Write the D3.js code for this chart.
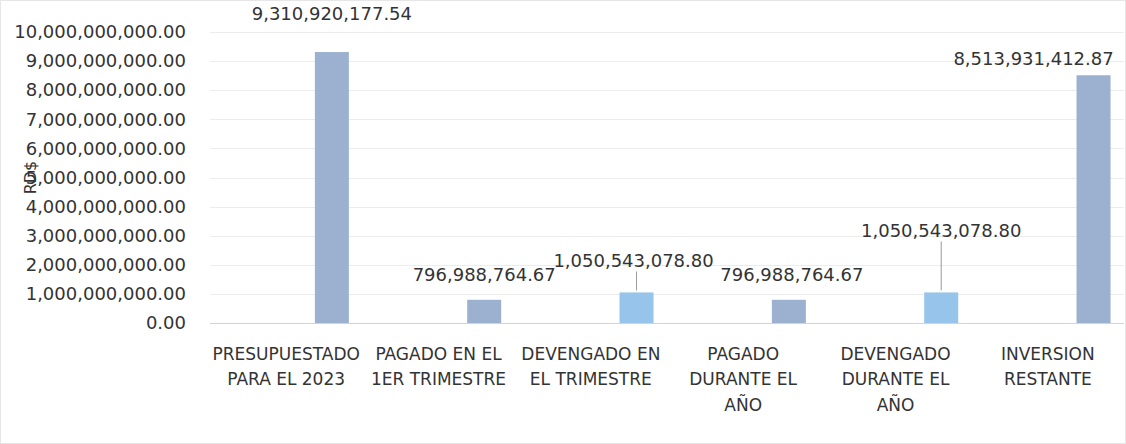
<!DOCTYPE html>
<html>
<head>
<meta charset="utf-8">
<script src="https://cdn.jsdelivr.net/npm/d3@7"></script>
<style>
  body { margin: 0; background: #fff; }
  text { font-family: 'DejaVu Sans', sans-serif; fill: #333; }
</style>
</head>
<body>
<div id="container"></div>
<script>
// DATA
const categories = [
  ['PRESUPUESTADO', 'PARA EL 2023'],
  ['PAGADO EN EL', '1ER TRIMESTRE'],
  ['DEVENGADO EN', 'EL TRIMESTRE'],
  ['PAGADO', 'DURANTE EL', 'AÑO'],
  ['DEVENGADO', 'DURANTE EL', 'AÑO'],
  ['INVERSION', 'RESTANTE']
]
const values = [9310920177.54, 796988764.67, 1050543078.80, 796988764.67, 1050543078.80, 8513931412.87]
const kinds = ['a', 'a', 'b', 'a', 'b', 'a']   // a = pagado/presupuesto, b = devengado
const yTicks = d3.range(0, 10000000001, 1000000000)

// label nudges (px) from default spot above the bar, and whether a leader line is drawn
const labelDx = [0, 0, -3, 3, 0, -60]
const labelDy = [-38, -25, -32, -25, -62, -17]
const leader = [false, false, true, false, true, false]

const w = 1126
const h = 444
const margin = { top: 32, right: 2, bottom: 121, left: 210 }

const color = { a: '#9cb1cf', b: '#97c4ea' }

const svg = d3.select('#container')
  .append('svg')
  .attr('width', w)
  .attr('height', h)

// faint chart border
svg.append('rect')
  .attr('x', 0.5).attr('y', 0.5)
  .attr('width', w - 1).attr('height', h - 1)
  .attr('fill', 'none')
  .attr('stroke', '#e6e6e6')

//SCALES
const x = d3.scaleBand()
  .domain(d3.range(categories.length))
  .range([margin.left, w - margin.right])

const y = d3.scaleLinear()
  .domain([0, 10000000000])
  .range([h - margin.bottom, margin.top])

const fmt = d3.format(',.2f')

//GRIDLINES
svg.append('g')
  .selectAll('line')
  .data(yTicks)
  .join('line')
  .attr('x1', margin.left)
  .attr('x2', w - margin.right)
  .attr('y1', d => Math.round(y(d)) + 0.5)
  .attr('y2', d => Math.round(y(d)) + 0.5)
  .attr('stroke', d => d === 0 ? '#d4d4d4' : '#ececec')

//Y AXIS
const yAxis = svg.append('g')
  .attr('transform', `translate(${margin.left - 24},0)`)
  .call(d3.axisLeft(y).tickValues(yTicks).tickFormat(fmt).tickSize(0).tickPadding(0))
yAxis.select('.domain').remove()
yAxis.selectAll('text')
  .style('font-size', '18px')
  .style('font-family', 'DejaVu Sans, sans-serif')
  .attr('fill', '#333')

svg.append('text')
  .attr('transform', `translate(30,${(y(0) + y(10000000000)) / 2}) rotate(-90)`)
  .attr('text-anchor', 'middle')
  .attr('dy', '0.35em')
  .style('font-size', '16px')
  .text('RD$')

//BARS
const barW = 34
const barX = i => x(i) + x.bandwidth() * 0.8 - barW / 2

svg.append('g')
  .selectAll('rect')
  .data(values)
  .join('rect')
  .attr('x', (d, i) => barX(i))
  .attr('y', d => y(d))
  .attr('width', barW)
  .attr('height', d => y(0) - y(d))
  .attr('fill', (d, i) => color[kinds[i]])

//LEADER LINES
svg.append('g')
  .selectAll('line')
  .data(values.map((v, i) => ({ v, i })).filter(d => leader[d.i]))
  .join('line')
  .attr('x1', d => barX(d.i) + barW / 2)
  .attr('x2', d => barX(d.i) + barW / 2)
  .attr('y1', d => y(d.v) + labelDy[d.i] + 11)
  .attr('y2', d => y(d.v) - 2)
  .attr('stroke', '#999')
  .attr('stroke-width', 1)

//VALUE LABELS
svg.append('g')
  .selectAll('text')
  .data(values)
  .join('text')
  .attr('x', (d, i) => barX(i) + barW / 2 + labelDx[i])
  .attr('y', (d, i) => y(d) + labelDy[i])
  .attr('dy', '0.35em')
  .attr('text-anchor', 'middle')
  .style('font-size', '18px')
  .text(d => fmt(d))

//CATEGORY LABELS
const cat = svg.append('g')
  .selectAll('text')
  .data(categories)
  .join('text')
  .attr('x', (d, i) => x(i) + x.bandwidth() / 2)
  .attr('y', 354)
  .attr('text-anchor', 'middle')
  .style('font-size', '17px')

cat.selectAll('tspan')
  .data(d => d)
  .join('tspan')
  .attr('x', function () { return this.parentNode.getAttribute('x') })
  .attr('y', (d, j) => 354 + j * 25.5)
  .attr('dy', '0.35em')
  .text(d => d)
</script>
</body>
</html>
